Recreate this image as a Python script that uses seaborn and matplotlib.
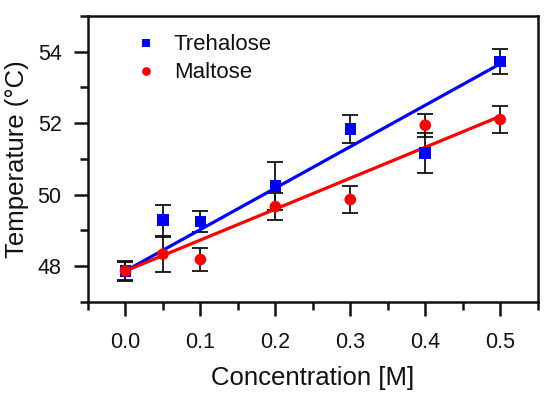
import numpy as np
import pandas as pd
import matplotlib
matplotlib.use("Agg")
import matplotlib.pyplot as plt
from matplotlib.ticker import MultipleLocator
import seaborn as sns

# ── Data ──────────────────────────────────────────────────────────────────────
conc = [0.0, 0.05, 0.1, 0.2, 0.3, 0.4, 0.5]

trehalose     = [47.86, 49.28, 49.24, 50.24, 51.83, 51.16, 53.72]
trehalose_err = [0.29, 0.43, 0.30, 0.68, 0.39, 0.57, 0.35]

maltose       = [47.86, 48.33, 48.18, 49.66, 49.86, 51.94, 52.10]
maltose_err   = [0.25, 0.49, 0.31, 0.38, 0.39, 0.32, 0.39]

# linear fits (intercept, slope) as drawn in the figure
trehalose_fit = (47.86, 11.60)
maltose_fit   = (47.86, 8.66)
fit_range     = [0.0, 0.5]

x_ticks = [0.0, 0.1, 0.2, 0.3, 0.4, 0.5]
y_ticks = [48, 50, 52, 54]

BLUE = "#0000FF"
RED = "#FF0000"
INK = "#111111"

sns.set_theme(style="ticks")
plt.rcParams["font.family"] = ["Liberation Sans", "DejaVu Sans"]

fig = plt.figure(figsize=(5.5, 3.99), dpi=100)
ax = fig.add_axes([0.16, 0.244, 0.8176, 0.716])

# error bars
ax.errorbar(conc, trehalose, yerr=trehalose_err, fmt="none", ecolor=INK,
            elinewidth=1.3, capsize=6, capthick=1.3, zorder=2)
ax.errorbar(conc, maltose, yerr=maltose_err, fmt="none", ecolor=INK,
            elinewidth=1.3, capsize=6, capthick=1.3, zorder=2)

# fit lines
fits = pd.DataFrame({
    "x": fit_range * 2,
    "y": [trehalose_fit[0] + trehalose_fit[1] * v for v in fit_range]
         + [maltose_fit[0] + maltose_fit[1] * v for v in fit_range],
    "s": ["Trehalose"] * 2 + ["Maltose"] * 2,
})
sns.lineplot(data=fits, x="x", y="y", hue="s", palette=[BLUE, RED],
             linewidth=2.3, legend=False, ax=ax, zorder=3)

# markers
pts = pd.DataFrame({
    "x": conc * 2,
    "y": trehalose + maltose,
    "s": ["Trehalose"] * len(conc) + ["Maltose"] * len(conc),
})
sns.scatterplot(data=pts, x="x", y="y", hue="s", style="s",
                markers={"Trehalose": "s", "Maltose": "o"},
                palette={"Trehalose": BLUE, "Maltose": RED},
                s=70, linewidth=0, ax=ax, zorder=4)

leg = ax.legend(loc="upper left", frameon=False, fontsize=16,
                handletextpad=0.25, borderaxespad=0.3, labelspacing=0.32,
                markerscale=0.75, bbox_to_anchor=(0.045, 0.99))
for t in leg.get_texts():
    t.set_color(INK)

ax.set_xlim(-0.05, 0.55)
ax.set_ylim(47, 55)
ax.set_xticks(x_ticks)
ax.set_xticklabels([f"{v:.1f}" for v in x_ticks])
ax.set_yticks(y_ticks)
ax.xaxis.set_minor_locator(MultipleLocator(0.05))
ax.yaxis.set_minor_locator(MultipleLocator(1))

ax.tick_params(axis="both", which="major", direction="out", length=10,
               width=1.8, labelsize=15.5, colors=INK)
ax.tick_params(axis="both", which="minor", direction="out", length=6,
               width=1.8, colors=INK)
ax.tick_params(axis="x", which="major", pad=12)
ax.tick_params(axis="y", which="major", pad=9)
ax.tick_params(axis="both", which="both", top=False, right=False,
               labeltop=False, labelright=False)
for axis in (ax.xaxis, ax.yaxis):
    for t in axis.get_major_ticks() + axis.get_minor_ticks():
        t.tick2line.set_visible(False)

for sp in ax.spines.values():
    sp.set_visible(True)
    sp.set_linewidth(1.8)
    sp.set_color(INK)

ax.set_xlabel("Concentration [M]", fontsize=18.5, color=INK, labelpad=9)
ax.set_ylabel("Temperature (\u00b0C)", fontsize=18.5, color=INK, labelpad=6)

fig.savefig("out.png", dpi=100)
